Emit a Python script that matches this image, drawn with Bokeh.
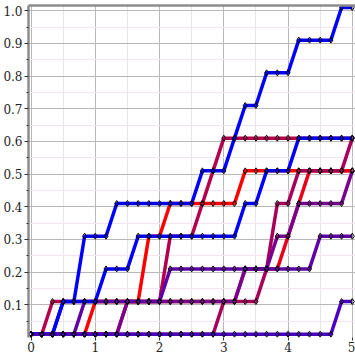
from bokeh.plotting import figure
from bokeh.models import Range1d, FixedTicker, LinearAxis, PrintfTickFormatter
from bokeh.embed import file_html
from bokeh.resources import INLINE

# x grid of sample positions (every 1/6)
xs = [0.0, 0.1667, 0.3333, 0.5, 0.6667, 0.8333, 1.0, 1.1667, 1.3333, 1.5, 1.6667,
      1.8333, 2.0, 2.1667, 2.3333, 2.5, 2.6667, 2.8333, 3.0, 3.1667, 3.3333, 3.5,
      3.6667, 3.8333, 4.0, 4.1667, 4.3333, 4.5, 4.6667, 4.8333, 5.0]

red_a = [0.01, 0.01, 0.01, 0.01, 0.01, 0.01, 0.11, 0.11, 0.11, 0.11, 0.11,
         0.31, 0.31, 0.41, 0.41, 0.41, 0.41, 0.41, 0.41, 0.41,
         0.51, 0.51, 0.51, 0.51, 0.51, 0.51, 0.51, 0.51, 0.51, 0.51, 0.51]
red_b = [0.01, 0.01, 0.01, 0.01, 0.01, 0.01, 0.01, 0.01, 0.01, 0.11, 0.11,
         0.11, 0.11, 0.11, 0.11, 0.11, 0.11, 0.11, 0.11, 0.11,
         0.21, 0.21, 0.21, 0.21, 0.31, 0.41, 0.51, 0.51, 0.51, 0.51, 0.51]
crimson_a = [0.01, 0.01, 0.11, 0.11, 0.11, 0.11, 0.11, 0.11, 0.11, 0.11, 0.11,
             0.11, 0.11, 0.31, 0.31, 0.31, 0.41, 0.51, 0.61, 0.61,
             0.61, 0.61, 0.61, 0.61, 0.61, 0.61, 0.61, 0.61, 0.61, 0.61, 0.61]
crimson_b = [0.01, 0.01, 0.01, 0.01, 0.01, 0.01, 0.01, 0.01, 0.01, 0.01, 0.01,
             0.01, 0.01, 0.01, 0.01, 0.01, 0.01, 0.01, 0.11, 0.11,
             0.11, 0.11, 0.21, 0.41, 0.41, 0.51, 0.51, 0.51, 0.51, 0.51, 0.61]
violet_a = [0.01, 0.01, 0.01, 0.01, 0.01, 0.01, 0.01, 0.01, 0.01, 0.11, 0.11,
            0.11, 0.11, 0.11, 0.11, 0.11, 0.11, 0.11, 0.11, 0.11,
            0.21, 0.21, 0.21, 0.31, 0.31, 0.41, 0.41, 0.41, 0.41, 0.41, 0.51]
purple_a = [0.01, 0.01, 0.01, 0.01, 0.01, 0.11, 0.11, 0.11, 0.11, 0.11, 0.11,
            0.11, 0.11, 0.21, 0.21, 0.21, 0.21, 0.21, 0.21, 0.21,
            0.21, 0.21, 0.21, 0.21, 0.21, 0.21, 0.21, 0.31, 0.31, 0.31, 0.31]
indigo_a = [0.01, 0.01, 0.01, 0.01, 0.01, 0.01, 0.01, 0.01, 0.01, 0.01, 0.01,
            0.01, 0.01, 0.01, 0.01, 0.01, 0.01, 0.01, 0.01, 0.01,
            0.01, 0.01, 0.01, 0.01, 0.01, 0.01, 0.01, 0.01, 0.01, 0.11, 0.11]
blue_a = [0.01, 0.01, 0.01, 0.11, 0.11, 0.31, 0.31, 0.31, 0.41, 0.41, 0.41,
          0.41, 0.41, 0.41, 0.41, 0.41, 0.51, 0.51, 0.51, 0.61,
          0.71, 0.71, 0.81, 0.81, 0.81, 0.91, 0.91, 0.91, 0.91, 1.01, 1.01]
blue_b = [0.01, 0.01, 0.01, 0.11, 0.11, 0.11, 0.11, 0.21, 0.21, 0.21, 0.31,
          0.31, 0.31, 0.31, 0.31, 0.31, 0.31, 0.31, 0.31, 0.31,
          0.41, 0.41, 0.51, 0.51, 0.51, 0.61, 0.61, 0.61, 0.61, 0.61, 0.61]

series = [
    (red_a, "#ff0000"),
    (red_b, "#e8001a"),
    (crimson_a, "#b4004c"),
    (crimson_b, "#a8005a"),
    (violet_a, "#7a0090"),
    (purple_a, "#6200a8"),
    (blue_a, "#0000ff"),
    (blue_b, "#0000ff"),
    (indigo_a, "#4a00c4"),
]

x_ticks = [0, 1, 2, 3, 4, 5]
x_minor = [0.5, 1.5, 2.5, 3.5, 4.5]
y_ticks = [0.1, 0.2, 0.3, 0.4, 0.5, 0.6, 0.7, 0.8, 0.9, 1.0]
y_minor = [0.05, 0.15, 0.25, 0.35, 0.45, 0.55, 0.65, 0.75, 0.85, 0.95]

p = figure(width=355, height=355, output_backend="svg", toolbar_location=None,
           x_range=Range1d(-0.04, 5.05), y_range=Range1d(0, 1.016),
           min_border_left=28, min_border_right=0, min_border_top=5,
           min_border_bottom=18)
p.outline_line_color = None
p.background_fill_color = "white"

FONT = "DejaVu Serif"
for ax in (p.xaxis[0], p.yaxis[0]):
    ax.major_label_text_font = FONT
    ax.major_label_text_font_size = "12px"
    ax.major_label_text_color = "#222222"
    ax.major_tick_line_color = "#333333"
    ax.minor_tick_line_color = "#333333"
    ax.major_tick_in = 0
    ax.minor_tick_in = 0

p.xaxis[0].ticker = FixedTicker(ticks=x_ticks, minor_ticks=x_minor)
p.xaxis[0].axis_line_color = None
p.xaxis[0].major_tick_out = 3
p.xaxis[0].minor_tick_out = 0
p.xaxis[0].major_label_standoff = 1

p.yaxis[0].ticker = FixedTicker(ticks=y_ticks, minor_ticks=y_minor)
p.yaxis[0].formatter = PrintfTickFormatter(format="%.1f")
p.yaxis[0].axis_line_color = "#8c8c8c"
p.yaxis[0].axis_line_width = 2.5
p.yaxis[0].major_tick_out = 4
p.yaxis[0].minor_tick_out = 2
p.yaxis[0].major_label_standoff = 2

top = LinearAxis(ticker=FixedTicker(ticks=[]), axis_line_color="#8c8c8c",
                 axis_line_width=2.5, major_label_text_font_size="0px",
                 major_tick_out=0, minor_tick_out=0, major_label_standoff=0)
p.add_layout(top, "above")

p.xgrid.grid_line_color = "#b8b8b8"
p.xgrid.minor_grid_line_color = "#e6e6e6"
p.ygrid.grid_line_color = "#b8b8b8"
p.ygrid.minor_grid_line_color = "#f2e4f0"

for ys, col in series:
    p.line(xs, ys, line_color=col, line_width=3.5)
for ys, col in series:
    p.scatter(xs, ys, marker="diamond", size=6, line_color="black",
              line_width=1, fill_color=None)

open("out.html", "w").write(file_html(p, INLINE))
